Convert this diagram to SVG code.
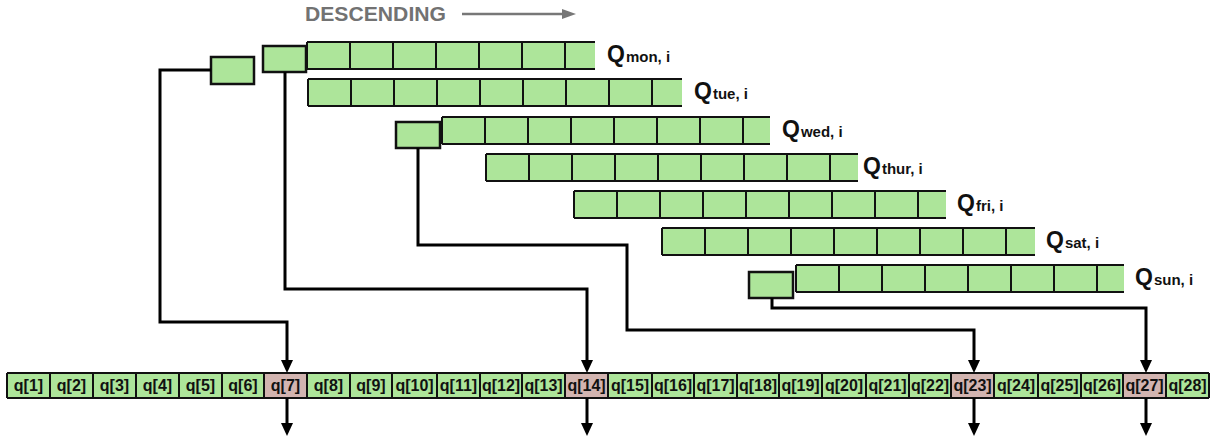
<svg xmlns="http://www.w3.org/2000/svg" width="1220" height="438" viewBox="0 0 1220 438">
  <style>
    .cellfill { fill: #ade59a; }
    .hot { fill: #d2b4b0; }
    .grid { fill: none; stroke: #111; stroke-width: 2; }
    .box { fill: #ade59a; stroke: #111; stroke-width: 2.5; }
    .wire { fill: none; stroke: #000; stroke-width: 3; }
    .lbl { font-family: "Liberation Sans", Arial, sans-serif; font-weight: bold; fill: #111; }
    .q { font-size: 23px; }
    .sub { font-size: 15px; }
    .cell { font-family: "Liberation Sans", Arial, sans-serif; font-weight: bold; font-size: 16px; fill: #111; text-anchor: middle; }
    .title { font-family: "Liberation Sans", Arial, sans-serif; font-weight: bold; font-size: 21px; fill: #727272; }
  </style>
  <defs>
    <marker id="head" markerUnits="userSpaceOnUse" markerWidth="14" markerHeight="12" refX="2" refY="6" orient="auto">
      <path d="M0,0 L13,6 L0,12 z" fill="#000"/>
    </marker>
  </defs>

  <rect width="1220" height="438" fill="#fff"/>

  <!-- heading -->
  <g id="heading">
    <text class="title" x="305" y="21" textLength="141" lengthAdjust="spacingAndGlyphs">DESCENDING</text>
    <line x1="462" y1="14" x2="564" y2="14" stroke="#777" stroke-width="2.5"/>
    <polygon points="562,9 576,14 562,19" fill="#777"/>
  </g>

  <!-- queue rows -->
  <g id="q-mon">
    <rect class="cellfill" x="307" y="42" width="288" height="27"/>
    <path class="grid" d="M307,42 H595 M307,69 H595 M307,42 V69 M350,42 V69 M393,42 V69 M436,42 V69 M479,42 V69 M522,42 V69 M565,42 V69"/>
    <text class="lbl" x="607" y="62"><tspan class="q">Q</tspan><tspan class="sub" dx="1">mon, i</tspan></text>
  </g>
  <g id="q-tue">
    <rect class="cellfill" x="308" y="79" width="374" height="27"/>
    <path class="grid" d="M308,79 H682 M308,106 H682 M308,79 V106 M351,79 V106 M394,79 V106 M437,79 V106 M480,79 V106 M523,79 V106 M566,79 V106 M609,79 V106 M652,79 V106"/>
    <text class="lbl" x="694" y="99"><tspan class="q">Q</tspan><tspan class="sub" dx="1">tue, i</tspan></text>
  </g>
  <g id="q-wed">
    <rect class="cellfill" x="442" y="117" width="328" height="27"/>
    <path class="grid" d="M442,117 H770 M442,144 H770 M442,117 V144 M485,117 V144 M528,117 V144 M571,117 V144 M614,117 V144 M657,117 V144 M700,117 V144 M743,117 V144"/>
    <text class="lbl" x="782" y="137"><tspan class="q">Q</tspan><tspan class="sub" dx="1">wed, i</tspan></text>
  </g>
  <g id="q-thur">
    <rect class="cellfill" x="486" y="154" width="372" height="27"/>
    <path class="grid" d="M486,154 H858 M486,181 H858 M486,154 V181 M529,154 V181 M572,154 V181 M615,154 V181 M658,154 V181 M701,154 V181 M744,154 V181 M787,154 V181 M830,154 V181"/>
    <text class="lbl" x="863" y="174"><tspan class="q">Q</tspan><tspan class="sub" dx="1">thur, i</tspan></text>
  </g>
  <g id="q-fri">
    <rect class="cellfill" x="574" y="191" width="372" height="27"/>
    <path class="grid" d="M574,191 H946 M574,218 H946 M574,191 V218 M617,191 V218 M660,191 V218 M703,191 V218 M746,191 V218 M789,191 V218 M832,191 V218 M875,191 V218 M918,191 V218"/>
    <text class="lbl" x="957" y="211"><tspan class="q">Q</tspan><tspan class="sub" dx="1">fri, i</tspan></text>
  </g>
  <g id="q-sat">
    <rect class="cellfill" x="662" y="228" width="373" height="27"/>
    <path class="grid" d="M662,228 H1035 M662,255 H1035 M662,228 V255 M705,228 V255 M748,228 V255 M791,228 V255 M834,228 V255 M877,228 V255 M920,228 V255 M963,228 V255 M1006,228 V255"/>
    <text class="lbl" x="1046" y="248"><tspan class="q">Q</tspan><tspan class="sub" dx="1">sat, i</tspan></text>
  </g>
  <g id="q-sun">
    <rect class="cellfill" x="796" y="265" width="328" height="27"/>
    <path class="grid" d="M796,265 H1124 M796,292 H1124 M796,265 V292 M839,265 V292 M882,265 V292 M925,265 V292 M968,265 V292 M1011,265 V292 M1054,265 V292 M1097,265 V292"/>
    <text class="lbl" x="1135" y="285"><tspan class="q">Q</tspan><tspan class="sub" dx="1">sun, i</tspan></text>
  </g>

  <!-- head-of-queue boxes -->
  <g id="head-a"><rect class="box" x="211" y="57" width="43" height="27"/></g>
  <g id="head-b"><rect class="box" x="263" y="46" width="43" height="26"/></g>
  <g id="head-c"><rect class="box" x="396" y="122" width="44" height="26"/></g>
  <g id="head-d"><rect class="box" x="749" y="272" width="44" height="26"/></g>

  <!-- merged sequence -->
  <g id="sequence">
    <rect class="cellfill" x="7" y="373" width="1202" height="25"/>
    <rect class="hot" x="264" y="373" width="43" height="25"/>
    <rect class="hot" x="565" y="373" width="43" height="25"/>
    <rect class="hot" x="951" y="373" width="43" height="25"/>
    <rect class="hot" x="1123" y="373" width="43" height="25"/>
    <path class="grid" d="M7,373 H1209 M7,398 H1209 M7,373 V398 M50,373 V398 M93,373 V398 M136,373 V398 M179,373 V398 M222,373 V398 M264,373 V398 M307,373 V398 M350,373 V398 M392,373 V398 M437,373 V398 M480,373 V398 M522,373 V398 M565,373 V398 M608,373 V398 M652,373 V398 M694,373 V398 M737,373 V398 M779,373 V398 M822,373 V398 M866,373 V398 M909,373 V398 M951,373 V398 M994,373 V398 M1038,373 V398 M1081,373 V398 M1123,373 V398 M1166,373 V398 M1209,373 V398"/>
    <text class="cell" x="28.5" y="391">q[1]</text>
    <text class="cell" x="71.5" y="391">q[2]</text>
    <text class="cell" x="114.5" y="391">q[3]</text>
    <text class="cell" x="157.5" y="391">q[4]</text>
    <text class="cell" x="200.5" y="391">q[5]</text>
    <text class="cell" x="243" y="391">q[6]</text>
    <text class="cell" x="285.5" y="391">q[7]</text>
    <text class="cell" x="328.5" y="391">q[8]</text>
    <text class="cell" x="371" y="391">q[9]</text>
    <text class="cell" x="414.5" y="391">q[10]</text>
    <text class="cell" x="458.5" y="391">q[11]</text>
    <text class="cell" x="501" y="391">q[12]</text>
    <text class="cell" x="543.5" y="391">q[13]</text>
    <text class="cell" x="586.5" y="391">q[14]</text>
    <text class="cell" x="630" y="391">q[15]</text>
    <text class="cell" x="673" y="391">q[16]</text>
    <text class="cell" x="715.5" y="391">q[17]</text>
    <text class="cell" x="758" y="391">q[18]</text>
    <text class="cell" x="800.5" y="391">q[19]</text>
    <text class="cell" x="844" y="391">q[20]</text>
    <text class="cell" x="887.5" y="391">q[21]</text>
    <text class="cell" x="930" y="391">q[22]</text>
    <text class="cell" x="972.5" y="391">q[23]</text>
    <text class="cell" x="1016" y="391">q[24]</text>
    <text class="cell" x="1059.5" y="391">q[25]</text>
    <text class="cell" x="1102" y="391">q[26]</text>
    <text class="cell" x="1144.5" y="391">q[27]</text>
    <text class="cell" x="1187.5" y="391">q[28]</text>
  </g>

  <!-- connectors -->
  <g id="connectors">
    <path class="wire" d="M211,70 H160 V322 H287 V362" marker-end="url(#head)"/>
    <path class="wire" d="M285,72 V289 H587 V362" marker-end="url(#head)"/>
    <path class="wire" d="M418,148 V245 H627 V330 H974 V362" marker-end="url(#head)"/>
    <path class="wire" d="M772,298 V308 H1146 V362" marker-end="url(#head)"/>
    <path class="wire" d="M287,398 V425" marker-end="url(#head)"/>
    <path class="wire" d="M587,398 V425" marker-end="url(#head)"/>
    <path class="wire" d="M974,398 V425" marker-end="url(#head)"/>
    <path class="wire" d="M1146,398 V425" marker-end="url(#head)"/>
  </g>
</svg>
